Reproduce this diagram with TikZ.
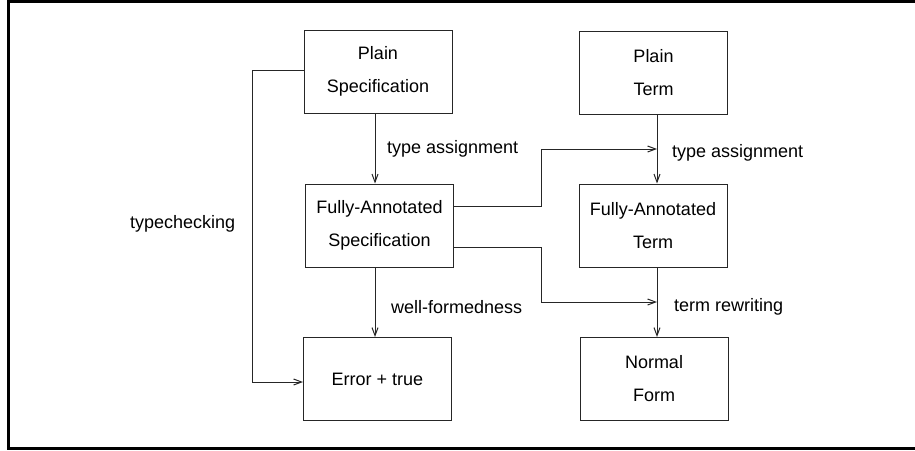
\documentclass[tikz,border=0pt]{standalone}
\usepackage{fontspec}
\setmainfont{Liberation Sans}
\usetikzlibrary{arrows.meta}
\begin{document}
\begin{tikzpicture}[x=1pt,y=-1pt,
  box/.style={draw=black!85, line width=1pt, minimum width=148pt, minimum height=83pt,
    inner sep=0pt, align=center, font=\fontsize{18}{33}\selectfont},
  lbl/.style={anchor=base west, inner sep=0pt, font=\fontsize{18}{22}\selectfont},
  arr/.style={draw=black!85, line width=1pt, -{Straight Barb[length=8pt,width=6pt]}},
  conn/.style={draw=black!85, line width=1pt}]
\useasboundingbox (0,0) rectangle (915,450);
% outer frame (open on the right)
\draw[line width=2.5pt] (915,1.5) -- (8.5,1.5) -- (8.5,448.5) -- (915,448.5);

% specification column
\node[box] (PS)  at (378,71.5)  {Plain\\Specification};
\node[box] (FAS) at (379.5,225.5) {Fully-Annotated\\Specification};
\node[box] (ERR) at (377.5,379) {Error + true};

% term column
\node[box] (PT)  at (653.5,72.5) {Plain\\Term};
\node[box] (FAT) at (653,225.5) {Fully-Annotated\\Term};
\node[box] (NF)  at (654,379)   {Normal\\Form};

% junction points on the term column arrows
\coordinate (ta) at (657,149);
\coordinate (tr) at (657,302);

% vertical steps
\draw[arr] (PS.south -| 375,0) -- (FAS.north -| 375,0);
\draw[arr] (FAS.south -| 375,0) -- (ERR.north -| 375,0);
\draw[arr] (PT.south -| ta) -- (FAT.north -| ta);
\draw[arr] (FAT.south -| ta) -- (NF.north -| ta);

% typechecking shortcut
\draw[arr] ([yshift=1.5pt]PS.west) -- ++(-51,0) |- ([yshift=-3pt]ERR.west);

% specification feeding the term steps
\draw[arr] ([yshift=19.5pt]FAS.east) -- ++(87,0) |- (ta);
\draw[arr] ([yshift=-21.5pt]FAS.east) -- ++(87,0) |- (tr);

% labels
\node[lbl] (l1) at (387,153) {type assignment};
\node[lbl] (l2) at (672,157) {type assignment};
\node[lbl] (l3) at (130,228) {typechecking};
\node[lbl] (l4) at (391,313) {well-formedness};
\node[lbl] (l5) at (674,311) {term rewriting};
\end{tikzpicture}
\end{document}
